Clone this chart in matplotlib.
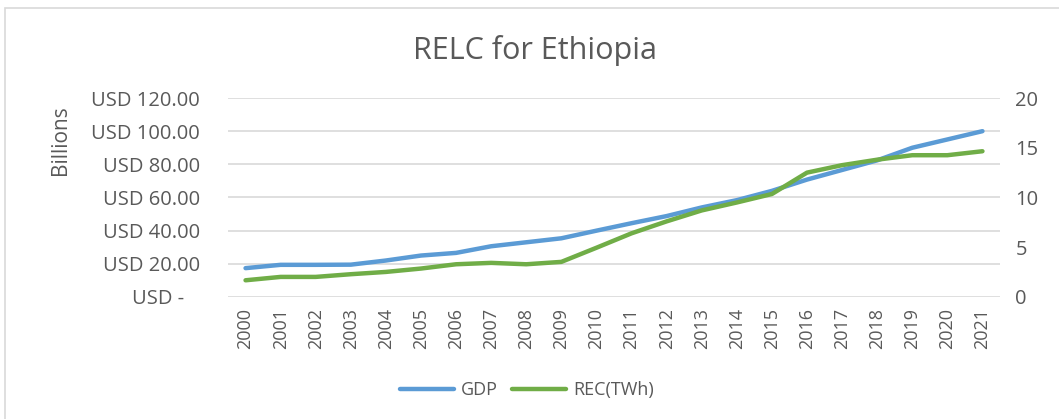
import matplotlib.pyplot as plt
from matplotlib.patches import Rectangle
from matplotlib.ticker import FuncFormatter
import numpy as np

plt.rcParams['font.family'] = ['Open Sans', 'DejaVu Sans']

years = list(range(2000, 2022))
gdp = [17.4, 19.4, 19.4, 19.5, 22.0, 25.0, 26.6, 30.6, 33.0, 35.4, 40.0,
       44.5, 48.8, 54.0, 58.4, 64.0, 70.8, 76.6, 82.4, 90.0, 95.0, 100.0]
rec = [1.68, 2.02, 2.02, 2.29, 2.52, 2.86, 3.29, 3.43, 3.29, 3.53, 4.95,
       6.4, 7.6, 8.7, 9.5, 10.35, 12.5, 13.25, 13.8, 14.25, 14.25, 14.65]

grey = '#595959'
blue = '#5b9bd5'
green = '#70ad47'

fig = plt.figure(figsize=(10.59, 4.19), dpi=100)
# outer chart border
fig.patches.append(Rectangle((5 / 1059, -0.01), 1.02, 1 - 8 / 419 + 0.01,
                             transform=fig.transFigure, fill=False,
                             edgecolor='#d9d9d9', linewidth=1.2))

ax = fig.add_axes([228 / 1059, 1 - 297 / 419, 772 / 1059, 199 / 419])
ax2 = ax.twinx()

x = np.arange(len(years))
l1, = ax.plot(x, gdp, color=blue, lw=3.2, solid_capstyle='round', label='GDP')
l2, = ax2.plot(x, rec, color=green, lw=3.2, solid_capstyle='round', label='REC(TWh)')

ax.set_xlim(-0.5, len(years) - 0.5)
ax.set_ylim(0, 120)
ax2.set_ylim(0, 20)
ax.set_yticks(range(0, 121, 20))
ax2.set_yticks(range(0, 21, 5))
ax.yaxis.set_major_formatter(FuncFormatter(
    lambda v, p: 'USD -   ' if v == 0 else f'USD {v:.2f}'))
ax.set_xticks(x)
ax.set_xticklabels([str(y) for y in years], rotation=90)

ax.grid(axis='y', color='#d9d9d9', lw=1.2)
ax.set_axisbelow(True)
for a in (ax, ax2):
    for s in a.spines.values():
        s.set_visible(False)
ax.tick_params(axis='y', length=0, pad=20, labelsize=14.5, labelcolor=grey)
ax.tick_params(axis='x', length=0, pad=8, labelsize=13, labelcolor=grey)
ax2.tick_params(axis='y', length=0, pad=11, labelsize=14.5, labelcolor=grey)

fig.text(60 / 1059, 1 - 140 / 419, 'Billions', rotation=90, ha='center',
         va='center', fontsize=15, color=grey)
fig.text(535 / 1059, 1 - 50 / 419, 'RELC for Ethiopia', ha='center',
         va='center', fontsize=22, color=grey)

fig.legend([l1, l2], ['GDP', 'REC(TWh)'], loc='center',
           bbox_to_anchor=(527 / 1059, 1 - 390 / 419), ncol=2, frameon=False,
           fontsize=13, labelcolor=grey, handlelength=3, columnspacing=0.8,
           handletextpad=0.4)

fig.savefig('out.png', dpi=100)
